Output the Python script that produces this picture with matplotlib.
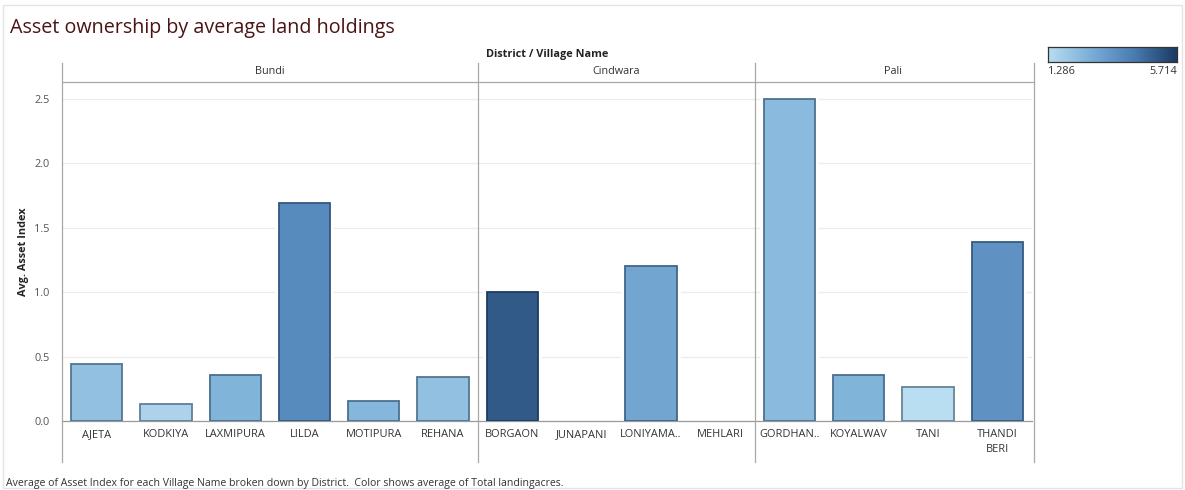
import numpy as np
import matplotlib.pyplot as plt
from matplotlib.colors import LinearSegmentedColormap, Normalize, to_rgb
from matplotlib.lines import Line2D
from matplotlib.patches import Rectangle

plt.rcParams['font.family'] = ['Open Sans', 'DejaVu Sans']

# data
districts = ['Bundi', 'Cindwara', 'Pali']
villages = ['AJETA', 'KODKIYA', 'LAXMIPURA', 'LILDA', 'MOTIPURA', 'REHANA',
            'BORGAON', 'JUNAPANI', 'LONIYAMA..', 'MEHLARI',
            'GORDHAN..', 'KOYALWAV', 'TANI', 'THANDI\nBERI']
village_district = ['Bundi'] * 6 + ['Cindwara'] * 4 + ['Pali'] * 4
asset_index = [0.44, 0.13, 0.36, 1.69, 0.155, 0.34,
               1.00, 0.0, 1.20, 0.0,
               2.50, 0.36, 0.26, 1.39]
land_acres = [2.2, 1.6, 2.6, 3.8, 2.5, 2.2,
              5.0, 5.714, 3.0, 1.286,
              2.4, 2.6, 1.286, 3.6]
color_min, color_max = 1.286, 5.714

cmap = LinearSegmentedColormap.from_list(
    'tab_blue', ['#b9ddf1', '#7aaed6', '#4a7cb2', '#1b3a62'])
norm = Normalize(color_min, color_max)

W, H = 1185, 490
fig = plt.figure(figsize=(W / 100, H / 100), dpi=100)
fig.patch.set_facecolor('white')


def fx(px):
    return px / W


def fy(py):
    return 1 - py / H


# outer frame
fig.add_artist(Rectangle((fx(3), fy(488)), fx(1179), fy(5) - fy(488),
                         transform=fig.transFigure, fill=False,
                         edgecolor='#e4e4e4', lw=1.0))

fig.text(fx(10), fy(28), 'Asset ownership by average land holdings',
         fontsize=14.2, color='#4a1414', va='center', ha='left')

ax = fig.add_axes([fx(62), fy(421), fx(970), fy(82) - fy(421)])
x = np.arange(len(villages))
heights = np.array(asset_index)
faces = [cmap(norm(v)) for v in land_acres]
dark = np.array(to_rgb('#06182f'))
edges = [tuple(np.array(to_rgb(f)) * 0.55 + dark * 0.45) for f in faces]
widths = [1.3 if h > 0 else 0 for h in heights]

# white halo so gridlines stop short of the bars
ax.bar(x, np.where(heights > 0, heights + 0.03, 0), width=0.86,
       color='white', linewidth=0, zorder=2)
ax.bar(x, heights, width=0.74, color=faces, edgecolor=edges,
       linewidth=widths, zorder=3)

ax.set_xlim(-0.5, len(villages) - 0.5)
ax.set_ylim(0, 2.63)
ax.set_yticks([0, 0.5, 1.0, 1.5, 2.0, 2.5])
ax.set_yticklabels(['0.0', '0.5', '1.0', '1.5', '2.0', '2.5'])
ax.yaxis.grid(True, color='#ececec', lw=0.9, zorder=0)
ax.set_xticks(x)
ax.set_xticklabels(villages, fontsize=7.9, color='#333333', va='top',
                   linespacing=1.5)
ax.tick_params(axis='x', length=0, pad=6)
ax.tick_params(axis='y', length=0, pad=9, labelsize=7.9,
               labelcolor='#555555')
for s in ['top', 'right', 'left']:
    ax.spines[s].set_visible(False)
ax.spines['bottom'].set_color('#9a9a9a')
ax.spines['bottom'].set_linewidth(0.9)
ax.set_ylabel('Avg. Asset Index', fontsize=7.8, fontweight='bold',
              color='#222222', labelpad=4)

# panel separators and header row
for px in [62, 478, 755, 1034]:
    fig.add_artist(Line2D([fx(px), fx(px)], [fy(63), fy(462)],
                          transform=fig.transFigure, color='#a8a8a8',
                          lw=0.9))
fig.add_artist(Line2D([fx(62), fx(1034)], [fy(82), fy(82)],
                      transform=fig.transFigure, color='#a8a8a8', lw=0.9))

bounds = [(-0.5, 5.5), (5.5, 9.5), (9.5, 13.5)]
for name, (a, b) in zip(districts, bounds):
    ax.text((a + b) / 2, 2.63 + 0.085, name, ha='center', va='center',
            fontsize=7.8, color='#333333', clip_on=False)

fig.text(fx(547), fy(54), 'District / Village Name', fontsize=7.8,
         fontweight='bold', color='#222222', ha='center', va='center')

# color legend
cax = fig.add_axes([fx(1048), fy(62), fx(129), fy(47) - fy(62)])
grad = np.linspace(0, 1, 256).reshape(1, -1)
cax.imshow(grad, aspect='auto', cmap=cmap)
cax.set_xticks([])
cax.set_yticks([])
for s in cax.spines.values():
    s.set_color('#333333')
    s.set_linewidth(0.9)
fig.text(fx(1048), fy(71), f'{color_min:.3f}', fontsize=7.8,
         color='#333333', ha='left', va='center')
fig.text(fx(1177), fy(71), f'{color_max:.3f}', fontsize=7.8,
         color='#333333', ha='right', va='center')

fig.text(fx(6), fy(488.5),
         'Average of Asset Index for each Village Name broken down by District.  '
         'Color shows average of Total landingacres.',
         fontsize=7.6, color='#333333', ha='left', va='bottom')

fig.savefig('out.png', dpi=100, facecolor='white')
